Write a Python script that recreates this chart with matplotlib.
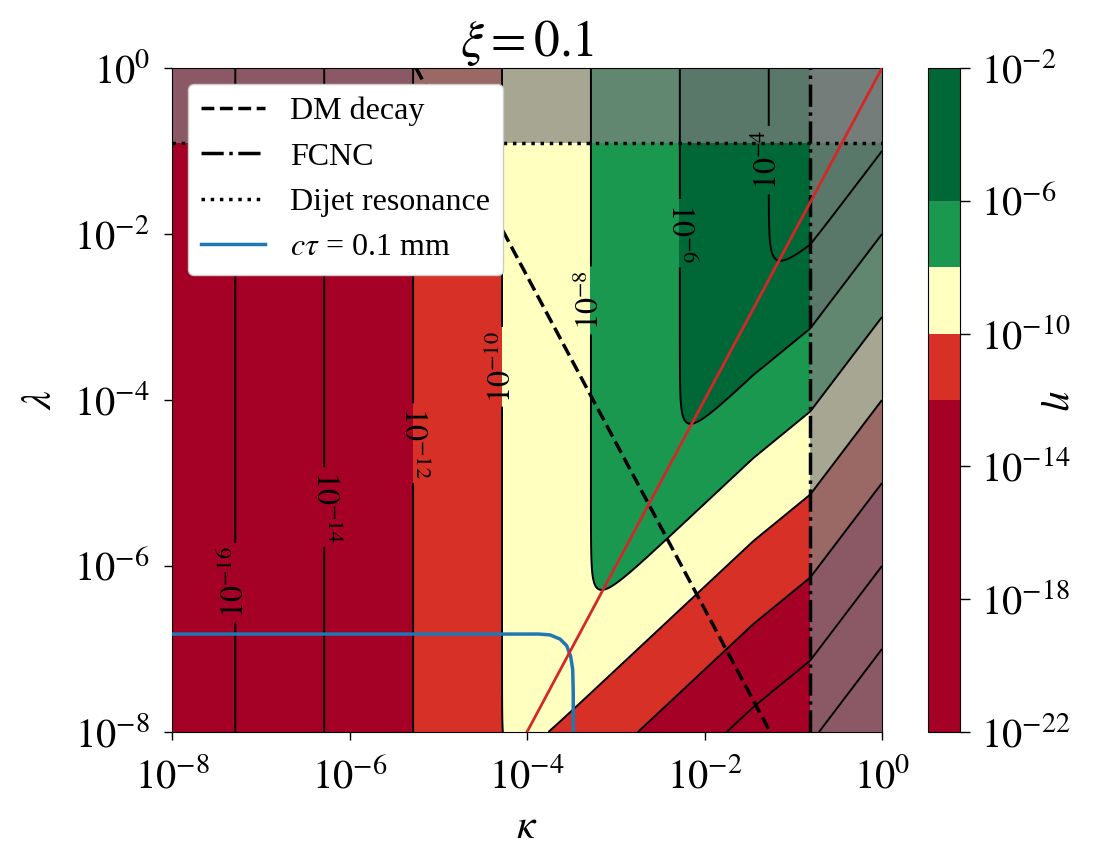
import numpy as np
import matplotlib
matplotlib.use('Agg')
import matplotlib.pyplot as plt

plt.rcParams['font.family'] = ['Liberation Serif', 'DejaVu Serif']
plt.rcParams['mathtext.fontset'] = 'stix'

# everything below is in log10 units (axes show 10^n)
# positions of the vertical contours
flat_logk = [-7.29, -6.28, -5.28, -4.28, -3.29, -2.28, -1.27]
flat_logeta = [-16, -14, -12, -10, -8, -6, -4]

# below lambda ~ kappa^2 : log eta = lam_power*log lambda + g(kappa)
lam_power = 2.0
g_logk = [-8.0, -1.45, -0.81, 0.0]
g_val = [14.5, 1.4, 0.28, -2.0]
soft = 0.8   # rounding of the corners (decades)

fill_levels = [-22, -12, -10, -8, -6, -2]
fill_colors = ['#a50026', '#d73027', '#ffffbf', '#1a9850', '#006837']
line_levels = list(range(-22, -1, 2))

label_pos = [(-7.29, -6.2), (-6.28, -5.29), (-5.28, -4.52), (-4.28, -3.6),
             (-3.29, -2.8), (-2.28, -1.99), (-1.27, -1.11)]
label_rot = [90, -90, -90, 90, 90, -90, 90]

# constraint lines (log10)
dm_logk = [-5.25, -1.26]
dm_logl = [0.0, -8.0]
logk_fcnc = -0.81
logl_dijet = -0.904
red_logk = [-4.0, 0.0]
red_logl = [-8.0, 0.0]
ctau_logk = [-8.0, -3.865, -3.741, -3.628, -3.553, -3.508, -3.485, -3.479, -3.479]
ctau_logl = [-6.82, -6.82, -6.83, -6.88, -6.96, -7.09, -7.25, -7.53, -8.0]

ticks = [-8, -6, -4, -2, 0]
cbar_ticks = [-22, -18, -14, -10, -6, -2]

lk = np.linspace(-8, 0, 401)
ll = np.linspace(-8, 0, 401)
LK, LL = np.meshgrid(lk, ll)
a, b = np.polyfit(flat_logk, flat_logeta, 1)
flat = a * LK + b
supp = lam_power * LL + np.interp(LK, g_logk, g_val)
logeta = -soft * np.log10(10**(-flat / soft) + 10**(-supp / soft))
logeta = np.clip(logeta, -21.99, -2.01)

fig = plt.figure(figsize=(10.93, 8.51), dpi=100)
ax = fig.add_axes([172/1093, 119/851, 710/1093, 664/851])
cax = fig.add_axes([928/1093, 119/851, 32/1093, 664/851])

cf = ax.contourf(LK, LL, logeta, levels=fill_levels, colors=fill_colors, zorder=1)
cs = ax.contour(LK, LL, logeta, levels=line_levels, colors='k', linewidths=1.4,
                linestyles='solid', zorder=3)
ax.clabel(cs, inline=True, fontsize=23, inline_spacing=4,
          fmt=lambda v: r'$10^{%d}$' % round(v), manual=label_pos)
for t, r in zip(cs.labelTexts, label_rot):
    t.set_rotation(r)

ax.axhspan(logl_dijet, 0, color='gray', alpha=0.7, lw=0, zorder=2)
ax.axvspan(logk_fcnc, 0, color='gray', alpha=0.7, lw=0, zorder=2)

ax.plot(dm_logk, dm_logl, color='k', ls='--', lw=2.5, label='DM decay', zorder=4)
ax.axvline(logk_fcnc, color='k', ls='-.', lw=2.5, label='FCNC', zorder=4)
ax.axhline(logl_dijet, color='k', ls=':', lw=2.5, label='Dijet resonance', zorder=4)
ax.plot(ctau_logk, ctau_logl, color='#1f77b4', lw=2.5,
        label=r'$c\tau$ = 0.1 mm', zorder=4)
ax.plot(red_logk, red_logl, color='#d62728', lw=2, zorder=4)

ax.set_xlim(-8, 0)
ax.set_ylim(-8, 0)
ax.set_xticks(ticks)
ax.set_yticks(ticks)
ax.set_xticklabels([r'$10^{%d}$' % t for t in ticks])
ax.set_yticklabels([r'$10^{%d}$' % t for t in ticks])
ax.tick_params(labelsize=29, length=6, width=1, pad=10)
ax.tick_params(axis='x', pad=13)
ax.set_xlabel(r'$\kappa$', fontsize=30, labelpad=8)
ax.set_ylabel(r'$\lambda$', fontsize=30, labelpad=10)
ax.set_title(r'$\xi=0.1$', fontsize=37, pad=8)

leg = ax.legend(loc='upper left', fontsize=23, framealpha=1)
leg.set_zorder(10)

cbar = fig.colorbar(cf, cax=cax, spacing='proportional', ticks=cbar_ticks)
cbar.ax.set_yticklabels([r'$10^{%d}$' % v for v in cbar_ticks])
cbar.ax.tick_params(labelsize=29, length=7, width=1, pad=8)
cbar.set_label(r'$\eta$', rotation=270, fontsize=30)

fig.savefig('out.png', dpi=100)
